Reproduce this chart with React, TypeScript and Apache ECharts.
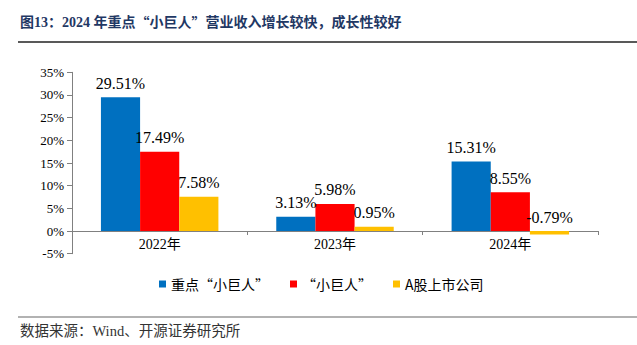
import React, { useEffect, useRef } from "react";
import * as echarts from "echarts";

const categories = ["2022年", "2023年", "2024年"];
const seriesNames = ["重点“小巨人”", "“小巨人”", "A股上市公司"];
const keyGiants = [29.51, 3.13, 15.31];
const giants = [17.49, 5.98, 8.55];
const listed = [7.58, 0.95, -0.79];
const colors = ["#0070C0", "#FF0000", "#FFC000"];

const FONT = "'Times New Roman', 'Liberation Serif', 'Noto Sans CJK SC', serif";
const CJK = "'Noto Sans CJK SC', 'Liberation Serif', serif";

export default function App() {
  const ref = useRef<HTMLDivElement>(null);
  useEffect(() => {
    if (!ref.current) return;
    const chart = echarts.init(ref.current, undefined, { renderer: "svg" });
    const values = [keyGiants, giants, listed];
    const titleBase = { fontSize: 14, fontWeight: "bold", fill: "#1F3864", fontFamily: FONT };
    chart.setOption({
      animation: false,
      backgroundColor: "#ffffff",
      textStyle: { fontFamily: FONT },
      grid: { left: 72, right: 39, top: 72.3, bottom: 91.3, containLabel: false },
      legend: {
        left: 154,
        top: 272,
        icon: "rect",
        itemWidth: 7,
        itemHeight: 7,
        itemGap: 21,
        textStyle: { fontSize: 14, color: "#000", fontFamily: CJK },
        data: seriesNames,
      },
      xAxis: {
        type: "category",
        data: categories,
        axisLine: { onZero: true, lineStyle: { color: "#808080", width: 1 } },
        axisTick: { show: true, length: 4, inside: false, lineStyle: { color: "#808080" } },
        axisLabel: { fontSize: 14, color: "#000", margin: -16, fontFamily: FONT },
      },
      yAxis: {
        type: "value",
        min: -5,
        max: 35,
        interval: 5,
        splitLine: { show: false },
        axisLine: { show: true, lineStyle: { color: "#808080", width: 1 } },
        axisTick: { show: true, length: 5, lineStyle: { color: "#808080" } },
        axisLabel: { fontSize: 13, color: "#000", margin: 8, formatter: "{value}%", fontFamily: FONT },
      },
      series: seriesNames.map((name, i) => ({
        name,
        type: "bar",
        data: values[i],
        barGap: "0%",
        barCategoryGap: "33%",
        itemStyle: { color: colors[i] },
        label: {
          show: true,
          position: "top",
          distance: 6,
          fontSize: 16,
          color: "#000",
          fontFamily: FONT,
          formatter: (p: any) => p.value.toFixed(2) + "%",
        },
      })),
      graphic: [
        {
          type: "text",
          left: 20,
          top: 15,
          style: {
            text: "{t|图13：2024 年重点}{q|“}{t|小巨人}{q|”}{t|营业收入增长较快，成长性较好}",
            rich: {
              t: titleBase,
              q: { ...titleBase, fontFamily: CJK },
            },
            ...titleBase,
          },
        },
        {
          type: "line",
          shape: { x1: 18, y1: 42, x2: 637, y2: 42 },
          style: { stroke: "#222", lineWidth: 1.5 },
        },
        {
          type: "line",
          shape: { x1: 18, y1: 317, x2: 637, y2: 317 },
          style: { stroke: "#999", lineWidth: 1.5 },
        },
        {
          type: "text",
          left: 20,
          top: 324,
          style: {
            text: "数据来源：Wind、开源证券研究所",
            fontSize: 14.5,
            fill: "#333",
            fontFamily: FONT,
          },
        },
      ],
    });
    return () => chart.dispose();
  }, []);
  return (
    <div
      ref={ref}
      style={{ position: "absolute", left: 0, top: 0, width: 637, height: 345 }}
    />
  );
}
